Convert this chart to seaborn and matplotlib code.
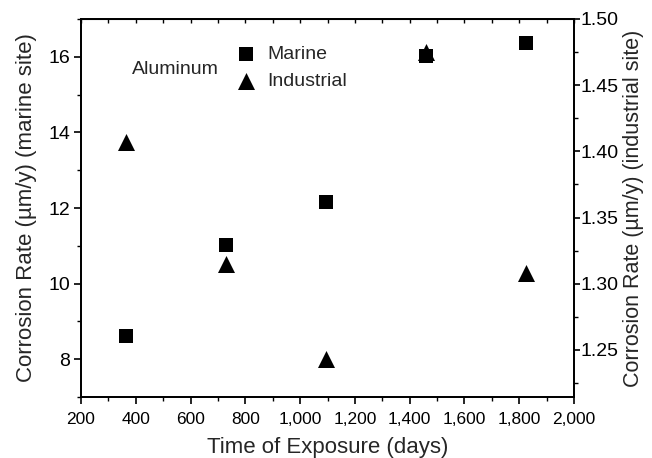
import matplotlib
matplotlib.use("Agg")
import matplotlib.pyplot as plt
import matplotlib.ticker as mticker
import seaborn as sns
import pandas as pd

days = [365, 730, 1095, 1460, 1825]
marine_rate = [8.62, 11.01, 12.16, 16.02, 16.37]
industrial_rate = [1.407, 1.315, 1.243, 1.475, 1.308]

x_label = "Time of Exposure (days)"
y_left_label = "Corrosion Rate (\u00b5m/y) (marine site)"
y_right_label = "Corrosion Rate (\u00b5m/y) (industrial site)"
material = "Aluminum"

sns.set_style("ticks")
plt.rcParams["font.family"] = ["Liberation Sans", "DejaVu Sans"]

fig = plt.figure(figsize=(6.52, 4.58), dpi=100)
ax = fig.add_axes([81/652, 1-397/458, (574-81)/652, (397-19)/458])
ax2 = ax.twinx()

df_m = pd.DataFrame({"days": days, "rate": marine_rate})
df_i = pd.DataFrame({"days": days, "rate": industrial_rate})

sns.scatterplot(data=df_m, x="days", y="rate", ax=ax, marker="s", s=100,
                color="black", edgecolor="black", linewidth=0, label="Marine", legend=False)
sns.scatterplot(data=df_i, x="days", y="rate", ax=ax2, marker="^", s=150,
                color="black", edgecolor="black", linewidth=0, label="Industrial", legend=False)

ax.set_xlim(200, 2000)
ax.set_ylim(7, 17)
ax2.set_ylim(1.2145, 1.50)

ax.xaxis.set_major_locator(mticker.MultipleLocator(200))
ax.xaxis.set_minor_locator(mticker.MultipleLocator(100))
ax.xaxis.set_major_formatter(mticker.FuncFormatter(lambda v, p: f"{int(v):,}"))
ax.yaxis.set_major_locator(mticker.MultipleLocator(2))
ax.yaxis.set_minor_locator(mticker.MultipleLocator(1))
ax2.yaxis.set_major_locator(mticker.MultipleLocator(0.05))
ax2.yaxis.set_minor_locator(mticker.MultipleLocator(0.025))
ax2.yaxis.set_major_formatter(mticker.FormatStrFormatter("%.2f"))

for a in (ax, ax2):
    for sp in a.spines.values():
        sp.set_visible(True)
        sp.set_linewidth(1.3)
        sp.set_color("black")

ax.tick_params(axis="both", which="major", direction="out", length=5, width=1.2,
               colors="black", labelsize=14, pad=3)
ax.tick_params(axis="both", which="minor", direction="out", length=3, width=1.0, colors="black")
ax.tick_params(axis="x", which="major", labelsize=12.5, pad=6)
ax2.tick_params(axis="y", which="major", direction="out", length=4, width=1.2,
                colors="black", labelsize=14, pad=0.5)
ax2.tick_params(axis="y", which="minor", direction="out", length=3, width=1.0, colors="black")

top = ax.secondary_xaxis("top")
top.xaxis.set_major_locator(mticker.MultipleLocator(100))
top.tick_params(axis="x", direction="in", length=3, width=1.0, labeltop=False, colors="black")

ax.set_xlabel(x_label, fontsize=16, labelpad=7)
ax.set_ylabel(y_left_label, fontsize=16, labelpad=8)
ax2.set_ylabel(y_right_label, fontsize=15.5, labelpad=3)

h1, l1 = ax.get_legend_handles_labels()
h2, l2 = ax2.get_legend_handles_labels()
leg = ax.legend(h1 + h2, l1 + l2, loc="upper left", bbox_to_anchor=(236/652, 1-45/458),
                bbox_transform=fig.transFigure, frameon=False, fontsize=14,
                handlelength=1.0, handletextpad=0.6, labelspacing=0.5, borderpad=0,
                borderaxespad=0)
fig.text(132/652, 1-69/458, material, fontsize=14, va="center", ha="left")

fig.savefig("out.png", dpi=100, facecolor="white")
